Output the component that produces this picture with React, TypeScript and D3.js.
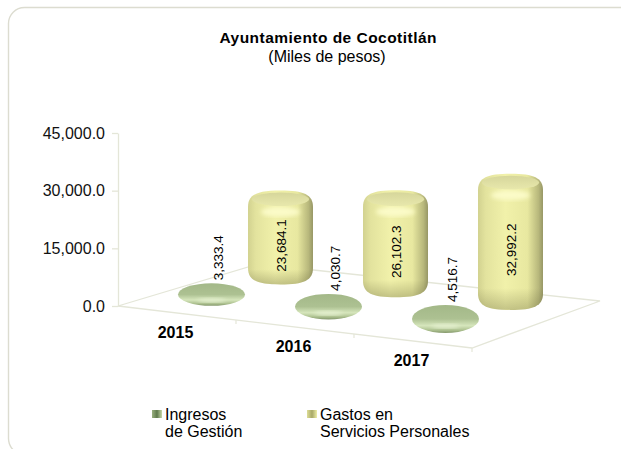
import React, { useEffect, useRef } from 'react';
import * as d3 from 'd3';

const years = ['2015', '2016', '2017'];
const seriesNames = ['Ingresos', 'Gastos'];
const ingresos = [3333.4, 4030.7, 4516.7];
const gastos = [23684.1, 26102.3, 32992.2];
const yTicks = [0, 15000, 30000, 45000];
const legendLines = [['Ingresos', 'de Gestión'], ['Gastos en', 'Servicios Personales']];

const W = 621;
const H = 449;
const FONT = '"Liberation Sans", Arial, sans-serif';

// corners of the 3d floor, as they land on the page
const O = [118, 306];
const FR = [472, 348];
const BR = [600, 301];
const BL = [258, 264];

function floorPoint(u: number, v: number) {
  const fx = O[0] + (FR[0] - O[0]) * u;
  const fy = O[1] + (FR[1] - O[1]) * u;
  const bx = BL[0] + (BR[0] - BL[0]) * u;
  const by = BL[1] + (BR[1] - BL[1]) * u;
  return [fx + (bx - fx) * v, fy + (by - fy) * v];
}

function addGradient(defs: any, id: string, stops: [number, string][], vertical = false) {
  const g = defs.append('linearGradient').attr('id', id)
    .attr('x1', 0).attr('y1', 0)
    .attr('x2', vertical ? 0 : 1).attr('y2', vertical ? 1 : 0);
  stops.forEach(s => g.append('stop').attr('offset', s[0]).attr('stop-color', s[1]));
}

// silhouette of a can with rounded shoulders
function canPath(cx: number, top: number, bottom: number, rx: number, ry: number) {
  const p = d3.path();
  const s = Math.min(ry * 1.5, (bottom - top) / 2);
  p.moveTo(cx - rx, top + s);
  p.bezierCurveTo(cx - rx, top + s * 0.25, cx - rx * 0.72, top, cx, top);
  p.bezierCurveTo(cx + rx * 0.72, top, cx + rx, top + s * 0.25, cx + rx, top + s);
  p.lineTo(cx + rx, bottom - s);
  p.bezierCurveTo(cx + rx, bottom - s * 0.25, cx + rx * 0.72, bottom, cx, bottom);
  p.bezierCurveTo(cx - rx * 0.72, bottom, cx - rx, bottom - s * 0.25, cx - rx, bottom - s);
  p.closePath();
  return p.toString();
}

export default function App() {
  const ref = useRef<SVGSVGElement>(null);

  useEffect(() => {
    const svg = d3.select(ref.current);
    svg.selectAll('*').remove();

    const defs = svg.append('defs');
    addGradient(defs, 'yellowBody', [[0, '#d2d290'], [0.12, '#e3e39e'], [0.42, '#f1f1aa'], [0.76, '#e8e8a0'], [0.93, '#b8b87c'], [1, '#979766']]);
    addGradient(defs, 'yellowCap', [[0, '#d6d69b'], [1, '#e8e8ac']], true);
    addGradient(defs, 'greenBody', [[0, '#a3b888'], [0.5, '#adc192'], [0.74, '#d6e6bc'], [0.9, '#adc190'], [1, '#85986c']], true);
    addGradient(defs, 'shadeDown', [[0, 'rgba(90,90,50,0)'], [0.84, 'rgba(90,90,50,0)'], [1, 'rgba(90,90,50,0.3)']], true);
    addGradient(defs, 'legendGreen', [[0, '#9ab080'], [0.5, '#5f7a4c'], [1, '#c8d8a8']]);
    addGradient(defs, 'legendYellow', [[0, '#dede96'], [0.5, '#a8a868'], [1, '#eeeea8']]);
    defs.append('filter').attr('id', 'soft').append('feGaussianBlur').attr('stdDeviation', 0.6);
    defs.append('filter').attr('id', 'softer').append('feGaussianBlur').attr('stdDeviation', 2);

    // outer frame, runs off the page on the right and bottom
    svg.append('rect')
      .attr('x', 8.5).attr('y', 7.5)
      .attr('width', 640).attr('height', 447)
      .attr('rx', 16)
      .attr('fill', 'white')
      .attr('stroke', '#dcdcd0')
      .attr('stroke-width', 1.4);

    svg.append('text')
      .attr('x', 328).attr('y', 43)
      .attr('text-anchor', 'middle')
      .attr('textLength', 217)
      .style('font', `bold 15.5px ${FONT}`)
      .text('Ayuntamiento de Cocotitlán');
    svg.append('text')
      .attr('x', 327).attr('y', 62)
      .attr('text-anchor', 'middle')
      .style('font', `16px ${FONT}`)
      .text('(Miles de pesos)');

    const yScale = d3.scaleLinear().domain([0, 45000]).range([O[1], 133]);
    const uScale = d3.scaleBand().domain(years).range([0, 1]);
    const vScale = d3.scalePoint().domain(seriesNames).range([0, 1]).padding(0.5);
    // things further right come out taller in the 3d view
    const depthFactor = d3.scaleLinear().domain([0, 2]).range([0.79, 0.9]);
    const pxHeight = (val: number, i: number) => (O[1] - yScale(val)) * depthFactor(i);

    const floorColor = '#e4e6d8';
    svg.append('path')
      .attr('d', d3.line()([O, FR, BR, BL] as any) + 'Z')
      .attr('fill', 'none')
      .attr('stroke', floorColor)
      .attr('stroke-width', 1.3);

    // category ticks along the front edge
    years.forEach((y, i) => {
      const p = floorPoint(i / 3 + 1 / 3, 0);
      svg.append('line')
        .attr('x1', p[0]).attr('x2', p[0])
        .attr('y1', p[1]).attr('y2', p[1] + 4)
        .attr('stroke', floorColor)
        .attr('stroke-width', 1.2);
      const c = floorPoint((uScale(y) as number) + uScale.bandwidth() / 2, 0);
      svg.append('text')
        .attr('x', c[0] - 1.5).attr('y', c[1] + 24.5)
        .attr('text-anchor', 'middle')
        .style('font', `bold 16px ${FONT}`)
        .text(y);
    });

    const yAxis = d3.axisLeft(yScale)
      .tickValues(yTicks)
      .tickSize(6)
      .tickSizeOuter(0)
      .tickFormat((d: any) => d3.format(',.1f')(d));
    const axisG = svg.append('g')
      .attr('transform', `translate(${O[0]},0)`)
      .call(yAxis as any);
    axisG.selectAll('line, path').attr('stroke', floorColor).attr('stroke-width', 1.3);
    axisG.selectAll('text')
      .attr('fill', '#111')
      .attr('x', -13)
      .style('font', `16px ${FONT}`);

    const drawYellow = (cx: number, floorY: number, h: number, rx: number, ry: number) => {
      const bottom = floorY + 3.5;
      const top = bottom - h - 2 * ry;
      const g = svg.append('g');
      const d = canPath(cx, top, bottom, rx, ry);
      g.append('path').attr('d', d).attr('fill', 'url(#yellowBody)').attr('filter', 'url(#soft)');
      g.append('path').attr('d', d).attr('fill', 'url(#shadeDown)');
      // the cap fades into the body, with a shine just under its front edge
      g.append('ellipse')
        .attr('cx', cx).attr('cy', top + ry * 1.95)
        .attr('rx', rx * 0.6).attr('ry', ry * 0.45)
        .attr('fill', '#fbfbc8')
        .attr('filter', 'url(#softer)');
      g.append('ellipse')
        .attr('cx', cx).attr('cy', top + ry * 0.8)
        .attr('rx', rx * 0.88).attr('ry', ry * 0.62)
        .attr('fill', 'url(#yellowCap)')
        .attr('filter', 'url(#soft)');
      return { top, bottom };
    };

    const drawDisc = (cx: number, floorY: number, h: number, rx: number, ry: number) => {
      const bottom = floorY + 3.5;
      const top = bottom - h - 2 * ry;
      const g = svg.append('g');
      g.append('ellipse')
        .attr('cx', cx).attr('cy', (top + bottom) / 2)
        .attr('rx', rx).attr('ry', (bottom - top) / 2)
        .attr('fill', 'url(#greenBody)').attr('filter', 'url(#soft)');
      g.append('ellipse')
        .attr('cx', cx).attr('cy', bottom - (bottom - top) * 0.24)
        .attr('rx', rx * 0.42).attr('ry', 2)
        .attr('fill', '#e6f1d2')
        .attr('filter', 'url(#softer)');
      return { top, bottom };
    };

    // back row first so the front discs sit over it
    years.forEach((y, i) => {
      const u = (uScale(y) as number) + uScale.bandwidth() / 2;
      const p = floorPoint(u, vScale('Gastos') as number);
      const { top, bottom } = drawYellow(p[0], p[1], pxHeight(gastos[i], i), 32.5, 11);
      svg.append('text')
        .attr('transform', `translate(${p[0] + 5},${(top + bottom) / 2 + 8}) rotate(-90)`)
        .attr('text-anchor', 'middle')
        .style('font', `13.5px ${FONT}`)
        .text(d3.format(',.1f')(gastos[i]));
    });
    years.forEach((y, i) => {
      const u = (uScale(y) as number) + uScale.bandwidth() / 2;
      const p = floorPoint(u, vScale('Ingresos') as number);
      const { top } = drawDisc(p[0], p[1], pxHeight(ingresos[i], i), 33.5, 6.2);
      svg.append('text')
        .attr('transform', `translate(${p[0] + 11},${top - 3}) rotate(-90)`)
        .attr('text-anchor', 'start')
        .style('font', `13.5px ${FONT}`)
        .text(d3.format(',.1f')(ingresos[i]));
    });

    // legend
    const legendX = d3.scalePoint().domain(seriesNames).range([152, 307]);
    seriesNames.forEach((s, i) => {
      const x = legendX(s) as number;
      svg.append('rect')
        .attr('x', x).attr('y', 410)
        .attr('width', 10).attr('height', 8)
        .attr('fill', i === 0 ? 'url(#legendGreen)' : 'url(#legendYellow)');
      legendLines[i].forEach((t, k) => {
        svg.append('text')
          .attr('x', x + 13).attr('y', 420 + k * 17)
          .style('font', `16px ${FONT}`)
          .text(t);
      });
    });
  }, []);

  return (
    <div style={{ position: 'absolute', left: 0, top: 0 }}>
      <svg ref={ref} width={W} height={H} style={{ display: 'block' }} />
    </div>
  );
}
